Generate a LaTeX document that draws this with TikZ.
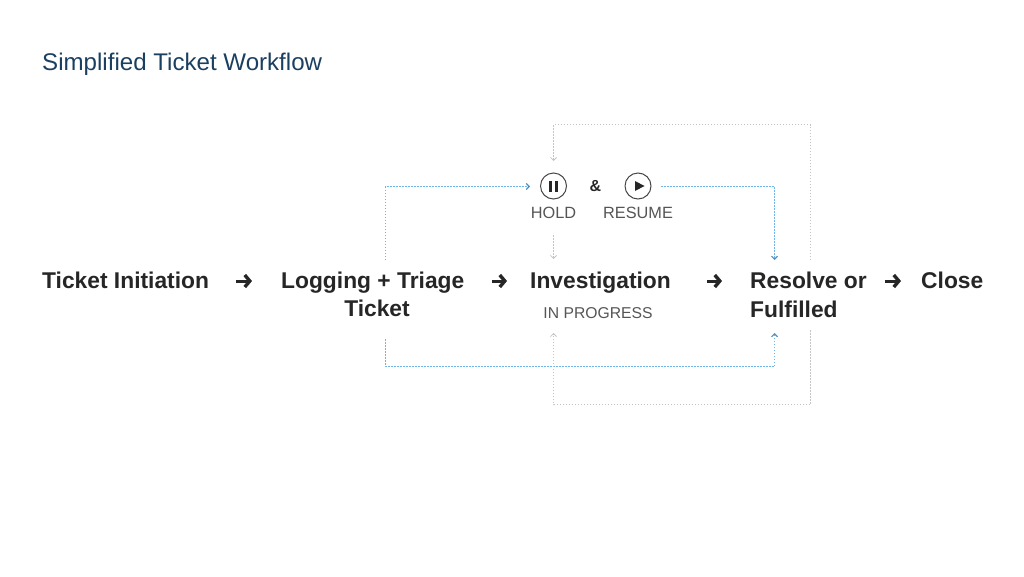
\documentclass[tikz,border=0pt]{standalone}
\usepackage{xcolor}
\usepackage{fontspec}
\usetikzlibrary{arrows.meta,positioning}
\setmainfont{Liberation Sans}
\definecolor{titleblue}{HTML}{1B3F60}
\definecolor{inkgray}{HTML}{262626}
\definecolor{labelgray}{HTML}{555555}
\definecolor{loopblue}{HTML}{6DB5EA}
\definecolor{loopgray}{HTML}{C4C4C4}

\begin{document}
\begin{tikzpicture}[
    x=1pt, y=-1pt,
    stage/.style={inner sep=0pt, anchor=base west, text=inkgray, text height=18pt, text depth=3pt, font=\fontsize{22.8}{27}\selectfont\bfseries},
    statelabel/.style={inner sep=0pt, anchor=base, text=labelgray, font=\fontsize{16.3}{20}\selectfont},
    flow/.style={-{Straight Barb[length=5pt,width=12pt,line width=3.4pt]}, inkgray, line width=3pt},
    icon/.style={draw=inkgray!85, circle, line width=1pt, minimum size=26pt, inner sep=0pt},
    blueloop/.style={-{Straight Barb[length=3pt,width=6pt,line width=1.1pt,color=loopblue!80!black]}, loopblue, line width=1.3pt, dash pattern=on 1.5pt off 1.5pt},
    grayloop/.style={-{Straight Barb[length=3pt,width=6pt,line width=0.8pt]}, loopgray, line width=1pt, dash pattern=on 1.5pt off 1.5pt}
]
    \useasboundingbox (0,0) rectangle (1024,576);

    \node[inner sep=0pt, anchor=base west, text=titleblue, font=\fontsize{24.1}{28}\selectfont] (title) at (42,70) {Simplified Ticket Workflow};

    \node[stage] (initiation) at (42,288.5) {Ticket Initiation};
    \node[stage] (logging) at (281,288.5) {Logging + Triage};
    \node[stage, anchor=base] (ticket) at (377,316) {Ticket};
    \node[stage] (investigation) at (530,288.5) {Investigation};
    \node[statelabel, font=\fontsize{15.7}{20}\selectfont] (progress) at (598,318) {IN PROGRESS};
    \node[stage] (resolve) at (750,288.5) {Resolve or};
    \node[stage] (fulfilled) at (750,317.5) {Fulfilled};
    \node[stage] (close) at (921,288.5) {Close};

    \draw[flow, shorten <=27pt, shorten >=29pt] (initiation.east) -- (logging.west);
    \draw[flow, shorten <=28pt, shorten >=23pt] (logging.east) -- (investigation.west);
    \draw[flow, shorten <=36pt, shorten >=28pt] (investigation.east) -- (resolve.west);
    \draw[flow, shorten <=18pt, shorten >=20pt] (resolve.east) -- (close.west);

    \node[icon] (hold) at (553.5,186) {};
    \node[icon] (resume) at (638,186) {};
    \node[inner sep=0pt, text=inkgray, font=\fontsize{16}{20}\selectfont\bfseries] (and) at (595.5,186) {\&};
    \node[statelabel] (holdlabel) at (553.5,218) {HOLD};
    \node[statelabel] (resumelabel) at (638,218) {RESUME};

    % icon glyphs
    \fill[inkgray] ([xshift=-4.6pt,yshift=-5.5pt]hold.center) rectangle ++(3.4,-11);
    \fill[inkgray] ([xshift=1.2pt,yshift=-5.5pt]hold.center) rectangle ++(3.4,-11);
    \fill[inkgray] ([xshift=-3pt,yshift=-5pt]resume.center) -- ++(9.5,-5) -- ++(-9.5,-5) -- cycle;

    \coordinate (logtop) at (385.5,260);
    \coordinate (logbottom) at (385.5,339);
    \coordinate (holdin) at (530,186.5);
    \coordinate (resumeout) at (661,186.5);
    \coordinate (resolvetop) at (774.5,260);
    \coordinate (resolvebottom) at (774.5,333);
    \coordinate (closetop) at (810.5,260);
    \coordinate (closebottom) at (810.5,330);
    \coordinate (holdtop) at (553.5,161);
    \coordinate (holdbottom) at (553.5,235);
    \coordinate (investtop) at (553.5,259);
    \coordinate (investbottom) at (553.5,333);

    \draw[blueloop] (logtop) |- (holdin);
    \draw[blueloop] (resumeout) -| (resolvetop);
    \draw[blueloop] (logbottom) -- ++(0,27.5) -| (resolvebottom);
    \draw[grayloop] (closetop) -- ++(0,-135.5) -| (holdtop);
    \draw[grayloop] (holdbottom) -- (investtop);
    \draw[grayloop] (closebottom) -- ++(0,74.5) -| (investbottom);
\end{tikzpicture}
\end{document}
